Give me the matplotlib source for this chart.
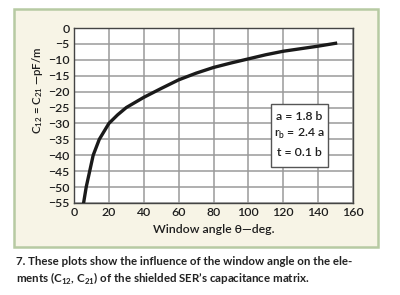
import matplotlib
matplotlib.use('Agg')
import matplotlib.pyplot as plt
from matplotlib.patches import Rectangle

# window angle (deg) vs C12 = C21 (pF/m)
angle = [5.5, 7, 9, 11, 14.5, 20, 25, 30, 40, 50, 60, 70, 80, 90, 100, 110, 120, 130, 140, 150]
cap = [-55, -50, -45, -40, -35, -30, -27.3, -25, -21.8, -19, -16.3, -14.2, -12.4, -11, -9.7, -8.4, -7.3, -6.5, -5.7, -4.8]

x_ticks = [0, 20, 40, 60, 80, 100, 120, 140, 160]
y_ticks = [0, -5, -10, -15, -20, -25, -30, -35, -40, -45, -50, -55]
params = ['a = 1.8 b', 'r$_\\mathregular{b}$ = 2.4 a', 't = 0.1 b']

plt.rcParams['font.family'] = ['Lato', 'DejaVu Sans']
plt.rcParams['mathtext.fontset'] = 'custom'
plt.rcParams['mathtext.rm'] = 'Lato'

fig = plt.figure(figsize=(4, 2.95), dpi=100)
fig.patch.set_facecolor('white')

# cream panel with green border
panel = Rectangle((0.035, 0.163), 0.91, 0.806, transform=fig.transFigure,
                  facecolor='#f7f4e6', edgecolor='#b7caa3', linewidth=1.8, zorder=-1)
fig.patches.append(panel)

ax = fig.add_axes([0.185, 0.312, 0.6975, 0.593])
ax.set_facecolor('white')
ax.plot(angle, cap, color='#1a1a1a', linewidth=2.4, zorder=4)

ax.set_xlim(0, 160)
ax.set_ylim(-55, 0)
ax.set_xticks(x_ticks)
ax.set_yticks(y_ticks)
ax.tick_params(length=0, labelsize=8.8, colors='#1e1e1e', pad=3)
for lab in ax.get_xticklabels() + ax.get_yticklabels():
    lab.set_fontweight('semibold')
ax.grid(True, color='#9a9a9a', linewidth=1.1)
ax.set_axisbelow(True)
for s in ax.spines.values():
    s.set_color('#444444')
    s.set_linewidth(1.0)

ax.set_xlabel('Window angle θ—deg.', fontsize=8.8, fontweight='semibold',
              color='#1e1e1e', labelpad=4)
ax.set_ylabel('C$_\\mathregular{12}$ = C$_\\mathregular{21}$ —pF/m', fontsize=8.2,
              fontweight='semibold', color='#1e1e1e')
ax.yaxis.set_label_coords(-0.105, 0.646)

# parameter box
ax.add_patch(Rectangle((113, -43.75), 32.7, 20, facecolor='white',
                       edgecolor='#555555', linewidth=1.0, zorder=5))
for txt, yy in zip(params, [-27.7, -33.4, -39.0]):
    ax.text(129.4, yy, txt, ha='center', va='center', fontsize=8.8,
            fontweight='semibold', color='#1e1e1e', zorder=6)

fig.text(0.04, 0.112, '7. These plots show the influence of the window angle on the ele-',
         fontsize=8.3, fontweight='bold', color='#222222', va='center')
fig.text(0.04, 0.055, 'ments (C$_\\mathregular{12}$, C$_\\mathregular{21}$) of the shielded SER\u2019s capacitance matrix.',
         fontsize=8.3, fontweight='bold', color='#222222', va='center')

fig.savefig('out.png', dpi=100)
